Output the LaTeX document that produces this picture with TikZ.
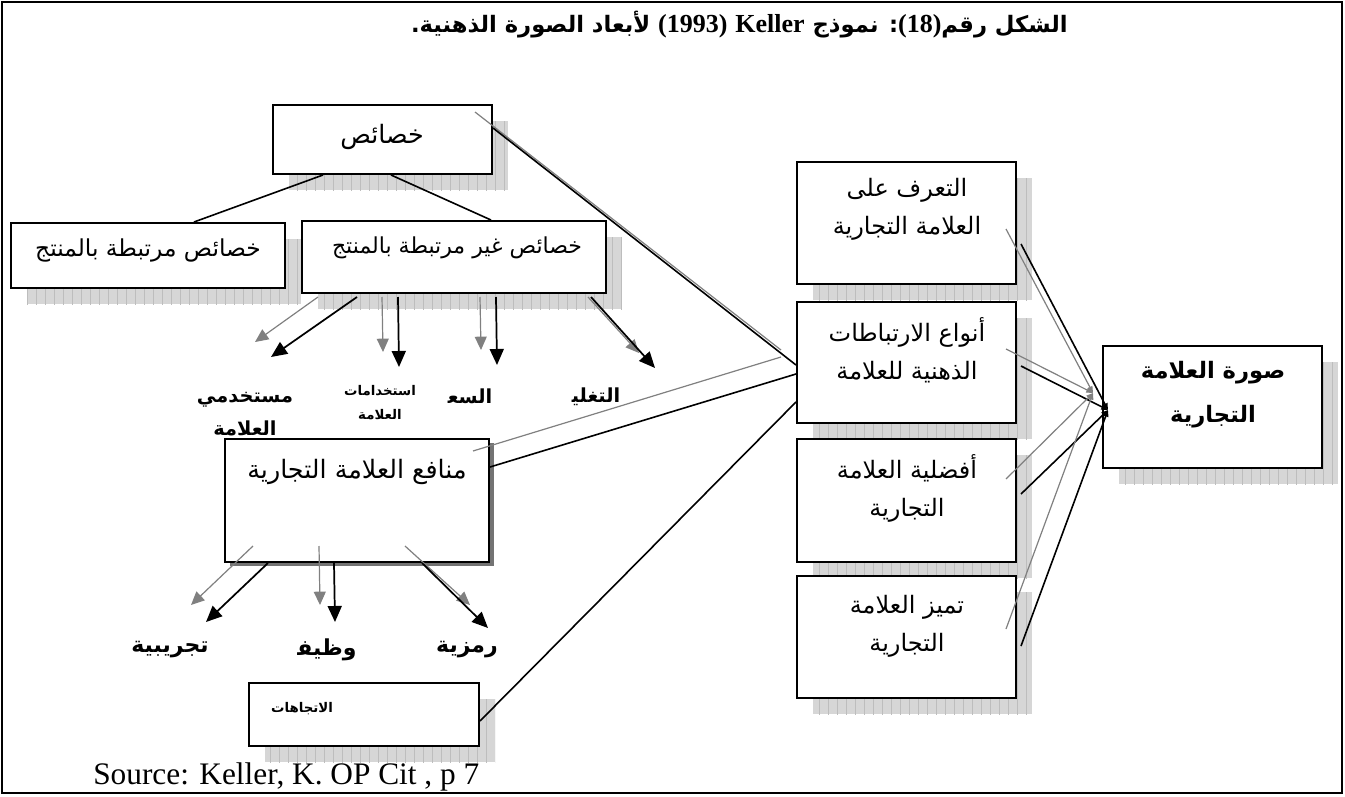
\documentclass[tikz,border=0pt]{standalone}
\usepackage{fontspec}
\setmainfont{Liberation Serif}
\newfontfamily\arabicfont[Script=Arabic]{DejaVu Sans}
\TeXXeTstate=1
\usetikzlibrary{arrows.meta,calc,fit}

% shaded grid shadow behind a box, offset down and right
\newcommand\gridshadow[5]{%
  \begin{scope}
    \clip (#1+#5,#2+#5) rectangle (#3+#5,#4+#5);
    \fill[black!16] (#1+#5,#2+#5) rectangle (#3+#5,#4+#5);
    \draw[black!26, line width=0.35pt, step=9] (#1+#5-9,#2+#5-9) grid (#3+#5+9,#4+#5+9);
  \end{scope}}

\tikzset{
  frame/.style={line width=1.5pt},
  box/.style={draw, line width=1.5pt, fill=white, inner sep=0pt},
  link/.style={line width=1.2pt},
  ghost/.style={line width=0.9pt, draw=black!50},
  bigarrow/.style={line width=1.3pt, -{Triangle[length=12pt,width=10.5pt]}},
  ghostarrow/.style={line width=0.9pt, draw=black!50,
    -{Triangle[length=10pt,width=9pt,fill=black!50]}},
  tiphead/.style={line width=1.2pt, -{Triangle[length=5pt,width=4pt]}},
  ghosttip/.style={line width=0.9pt, draw=black!50, -{Triangle[length=5pt,width=4pt,fill=black!50]}},
  atext/.style={inner sep=0pt, align=center, font=\arabicfont\fontsize{18}{28.5}\selectfont},
  btext/.style={inner sep=0pt, align=center, font=\arabicfont\bfseries\fontsize{14.5}{17}\selectfont},
  smalltext/.style={btext, font=\arabicfont\bfseries\fontsize{10}{12}\selectfont},
  bigbtext/.style={btext, font=\arabicfont\bfseries\fontsize{16.5}{19}\selectfont},
}

\begin{document}
\begin{tikzpicture}[x=0.75pt,y=-0.75pt]
\useasboundingbox (0,0) rectangle (1345,796);
\fill[white] (0,0) rectangle (1345,796);
\draw[frame] (2,2) rectangle (1342,793);

% title and source line
\node[inner sep=0pt, anchor=east, font=\arabicfont\bfseries\fontsize{17}{20}\selectfont] (title) at (1068,25)
  {\beginR الشكل رقم\beginL{\rmfamily\bfseries\fontsize{19.5}{20}\selectfont(18)}\endL: نموذج \beginL{\rmfamily\bfseries\fontsize{19.5}{20}\selectfont Keller}\endL{} \beginL{\rmfamily\bfseries\fontsize{19.5}{20}\selectfont(1993)}\endL{} لأبعاد الصورة الذهنية.\endR};
\node[inner sep=0pt, anchor=base west, font=\fontsize{23.5}{26}\selectfont] (src) at (93,784) {Source: Keller, K. OP Cit , p 7};

% shadows
\gridshadow{273}{105}{492}{174}{16}
\gridshadow{11}{223}{285}{288}{16}
\gridshadow{302}{221}{606}{293}{16}
\gridshadow{797}{162}{1016}{284}{16}
\gridshadow{797}{302}{1016}{423}{16}
\gridshadow{797}{439}{1016}{562}{16}
\gridshadow{797}{576}{1016}{698}{16}
\gridshadow{1103}{346}{1322}{468}{16}
\gridshadow{249}{683}{479}{746}{16}
\fill[black!55] (230,443) rectangle (494,566);

% last letter of the functional label, mostly hidden by the attitudes box
\node[bigbtext] (lfunc2) at (306,689) {\beginR ة\endR};

% boxes
\node[box, fit={(273,105) (492,174)}] (A) {};
\node[box, fit={(11,223) (285,288)}] (B) {};
\node[box, fit={(302,221) (606,293)}] (C) {};
\node[box, fit={(797,162) (1016,284)}] (D) {};
\node[box, fit={(797,302) (1016,423)}] (E) {};
\node[box, fit={(797,439) (1016,562)}] (F) {};
\node[box, fit={(797,576) (1016,698)}] (G) {};
\node[box, fit={(1103,346) (1322,468)}] (H) {};
\node[box, fit={(225,439) (489,562)}] (I) {};
\node[box, fit={(249,683) (479,746)}] (J) {};

% box texts
\node[atext, font=\arabicfont\fontsize{19}{22}\selectfont] (tA) at (382,137) {\beginR خصائص\endR};
\node[atext, font=\arabicfont\fontsize{17.5}{20}\selectfont] (tB) at (148,250) {\beginR خصائص مرتبطة بالمنتج\endR};
\node[atext, font=\arabicfont\fontsize{16.5}{19}\selectfont] (tC) at (457,248) {\beginR خصائص غير مرتبطة بالمنتج\endR};
\node[atext] (tD) at (907,209) {\beginR التعرف على\endR\\\beginR العلامة التجارية\endR};
\node[atext] (tE) at (907,350) {\beginR أنواع الارتباطات\endR\\\beginR الذهنية للعلامة\endR};
\node[atext] (tF) at (907,488) {\beginR أفضلية العلامة\endR\\\beginR التجارية\endR};
\node[atext] (tG) at (907,626) {\beginR تميز العلامة\endR\\\beginR التجارية\endR};
\node[atext, font=\arabicfont\bfseries\fontsize{17}{33}\selectfont] (tH) at (1213,395) {\beginR صورة العلامة\endR\\\beginR التجارية\endR};
\node[atext, font=\arabicfont\fontsize{19}{22}\selectfont] (tI) at (357,472) {\beginR منافع العلامة التجارية\endR};
\node[smalltext] (tJ) at (302,709) {\beginR الاتجاهات\endR};

% labels under the non-product attributes
\node[btext] (luser) at (245,400) {\beginR مستخدمي\endR};
\node[btext] (luser2) at (245,428) {\beginR العلامة\endR};
\node[smalltext] (lusage) at (380,391) {\beginR استخدامات\endR};
\node[smalltext] (lusage2) at (380,415) {\beginR العلامة\endR};
\node[btext] (lprice) at (470,396) {\beginR السع^^^^200d\endR};
\node[btext] (lpack) at (596,397) {\beginR التغلي^^^^200d\endR};

% labels under the benefits
\node[bigbtext] (lexp) at (170,650) {\beginR تجريبية\endR};
\node[bigbtext] (lfunc) at (327,650) {\beginR وظيف^^^^200d\endR};
\node[bigbtext] (lsym) at (467,650) {\beginR رمزية\endR};

% attribute tree
\draw[link] ($(A.south west)+(51,0)$) -- ($(B.north west)+(184,0)$);
\draw[link] ($(A.south west)+(119,0)$) -- ($(C.north west)+(190,0)$);

% arrows from the non-product attributes
\coordinate (u1) at (271,357); \coordinate (u1g) at (255,342);
\coordinate (u2) at (399,367); \coordinate (u2g) at (383,352);
\coordinate (u3) at (497,365); \coordinate (u3g) at (481,350);
\coordinate (u4) at (655,368); \coordinate (u4g) at (639,353);
\draw[ghostarrow] ($(C.south west)+(17,3)$) -- (u1g);
\draw[ghostarrow] ($(C.south west)+(81,3)$) -- (u2g);
\draw[ghostarrow] ($(C.south west)+(179,3)$) -- (u3g);
\draw[ghostarrow] ($(C.south west)+(287,3)$) -- (u4g);
\draw[bigarrow] ($(C.south west)+(56,3)$) -- (u1);
\draw[bigarrow] ($(C.south west)+(97,3)$) -- (u2);
\draw[bigarrow] ($(C.south west)+(195,3)$) -- (u3);
\draw[bigarrow] ($(C.south west)+(290,3)$) -- (u4);

% arrows from the benefits
\coordinate (b1) at (206,622); \coordinate (b1g) at (191,605);
\coordinate (b2) at (335,622); \coordinate (b2g) at (320,605);
\coordinate (b3) at (488,628); \coordinate (b3g) at (470,605);
\draw[ghostarrow] ($(I.south west)+(29,-17)$) -- (b1g);
\draw[ghostarrow] ($(I.south west)+(95,-17)$) -- (b2g);
\draw[ghostarrow] ($(I.south west)+(181,-17)$) -- (b3g);
\draw[bigarrow] ($(I.south west)+(44,0)$) -- (b1);
\draw[bigarrow] ($(I.south west)+(110,0)$) -- (b2);
\draw[bigarrow] ($(I.south west)+(198,0)$) -- (b3);

% links into the types of associations
\draw[ghost] ($(A.north east)+(-18,8)$) -- ($(E.north west)+(-15,49)$);
\draw[link] ($(A.north east)+(0,24)$) -- ($(E.north west)+(0,64)$);
\draw[ghost] ($(I.north east)+(-17,13)$) -- ($(E.north west)+(-15,56)$);
\draw[link] ($(I.north east)+(0,29)$) -- ($(E.north west)+(0,73)$);
\draw[link] ($(J.north east)+(0,39)$) -- ($(E.north west)+(0,101)$);

% links into the brand image
\coordinate (hb) at (1108,410);
\coordinate (hg) at (1093,393);
\foreach \n/\dy/\gy in {D/83/68, E/65/48, F/56/41, G/71/54}{
  \draw[ghosttip] ($(\n.north east)+(-11,\gy)$) -- (hg);
  \draw[tiphead] ($(\n.north east)+(4,\dy)$) -- (hb);
}
\end{tikzpicture}
\end{document}
